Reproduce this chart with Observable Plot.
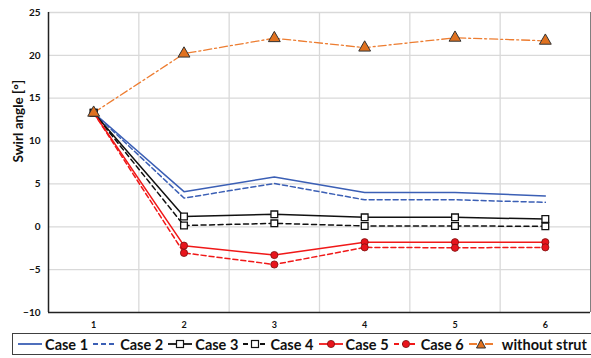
<!DOCTYPE html>
<html><head><meta charset="utf-8">
<script src="https://cdn.jsdelivr.net/npm/d3@7"></script>
<script src="https://cdn.jsdelivr.net/npm/@observablehq/plot@0.6"></script>
<style>
body{margin:0;background:#fff;font-family:Lato,"Open Sans",sans-serif;}
#legend{position:absolute;left:12px;top:333px;width:574px;height:20px;border:1px solid #404040;display:flex;align-items:center;justify-content:space-around;font-weight:bold;font-size:14.5px;color:#111;box-sizing:content-box;padding:0 2px;}
.it{display:flex;align-items:center;white-space:nowrap}
.it svg{margin-right:2px}
</style></head><body>
<div id="chart"></div>
<div id="legend"></div>
<script>
const positions = [1, 2, 3, 4, 5, 6];
const case1 = [13.3, 4.1, 5.8, 4.0, 4.0, 3.6];
const case2 = [13.3, 3.35, 5.05, 3.15, 3.15, 2.85];
const case3 = [13.3, 1.2, 1.45, 1.1, 1.1, 0.9];
const case4 = [13.3, 0.15, 0.4, 0.1, 0.1, 0.05];
const case5 = [13.3, -2.2, -3.3, -1.8, -1.8, -1.8];
const case6 = [13.3, -3.05, -4.4, -2.4, -2.45, -2.4];
const withoutStrut = [13.3, 20.2, 22.0, 20.9, 22.05, 21.7];
const seriesNames = ["Case 1", "Case 2", "Case 3", "Case 4", "Case 5", "Case 6", "without strut"];
const yTicks = [-10, -5, 0, 5, 10, 15, 20, 25];
const yLabel = "Swirl angle [°]";

const values = [case1, case2, case3, case4, case5, case6, withoutStrut];
const styles = [
  {color: "#3b5fb5", dash: null, marker: null},
  {color: "#3b5fb5", dash: "5,3", marker: null},
  {color: "#111111", dash: null, marker: "square"},
  {color: "#111111", dash: "5,3.5", marker: "square"},
  {color: "#f01818", dash: null, marker: "circle"},
  {color: "#f01818", dash: "5,3", marker: "circle"},
  {color: "#ed7d31", dash: "8,3,2,3", marker: "triangle"}
];
const rows = values.map((vals, i) => vals.map((v, j) => ({x: positions[j], y: v, s: seriesNames[i]})));
const gridX = [positions[0] - 0.5, ...positions.map(p => p + 0.5)];

const marks = [
  Plot.ruleY(yTicks.filter(t => t > yTicks[0]), {stroke: "#d9d9d9", strokeWidth: 1.3}),
  Plot.ruleX(gridX.slice(1, -1), {stroke: "#d9d9d9", strokeWidth: 1.3}),
  Plot.ruleX(gridX.slice(-1), {stroke: "#808080", strokeWidth: 1}),
  Plot.ruleY([yTicks[0]], {stroke: "#222", strokeWidth: 1.5}),
  Plot.ruleX(gridX.slice(0, 1), {stroke: "#222", strokeWidth: 1.5})
];
rows.forEach((r, i) => {
  const st = styles[i];
  marks.push(Plot.line(r, {x: "x", y: "y", stroke: st.color, strokeWidth: i === 6 ? 1.3 : 1.5, strokeDasharray: st.dash}));
});
[4, 5, 2, 3, 6].forEach(i => {
  const st = styles[i];
  if (st.marker === "circle") marks.push(Plot.dot(rows[i], {x: "x", y: "y", r: 3.6, fill: "#e8141c", stroke: "#7a1010", strokeWidth: 0.8}));
  if (st.marker === "square") marks.push(Plot.dot(rows[i], {x: "x", y: "y", symbol: "square", r: 3.8, fill: "white", stroke: "#111", strokeWidth: 1.3}));
  if (st.marker === "triangle") marks.push(Plot.dot(rows[i], {x: "x", y: "y", symbol: "triangle", r: 4.4, fill: "#e0711f", stroke: "#333", strokeWidth: 1}));
});
marks.push(Plot.axisY(yTicks, {tickSize: 0, tickPadding: 8, fontWeight: "bold", fontSize: 10, fill: "#111", label: null}));
marks.push(Plot.axisX(positions, {tickSize: 0, tickPadding: 9, fontWeight: "bold", fontSize: 9, fill: "#111", label: null}));
marks.push(Plot.text([yLabel], {frameAnchor: "left", rotate: -90, dx: -30, text: d => d, fontWeight: "bold", fontSize: 13.5, fill: "#111"}));

const chart = Plot.plot({
  width: 591, height: 333,
  marginLeft: 48, marginTop: 12, marginRight: 1, marginBottom: 21,
  style: {fontFamily: "Lato, 'Open Sans', sans-serif", background: "white", overflow: "visible"},
  x: {type: "linear", domain: [gridX[0], gridX[gridX.length - 1]]},
  y: {domain: [yTicks[0], yTicks[yTicks.length - 1]]},
  marks
});
document.getElementById("chart").append(chart);

const leg = d3.select("#legend");
seriesNames.forEach((name, i) => {
  const st = styles[i];
  const it = leg.append("div").attr("class", "it");
  const sw = it.append("svg").attr("width", 26).attr("height", 12);
  sw.append("line").attr("x1", 1).attr("x2", 25).attr("y1", 6).attr("y2", 6)
    .attr("stroke", st.color).attr("stroke-width", 1.8).attr("stroke-dasharray", st.dash);
  if (st.marker === "square") sw.append("rect").attr("x", 9.5).attr("y", 2.5).attr("width", 7).attr("height", 7).attr("fill", "white").attr("stroke", "#111").attr("stroke-width", 1.2);
  if (st.marker === "circle") sw.append("circle").attr("cx", 13).attr("cy", 6).attr("r", 3.6).attr("fill", "#e8141c").attr("stroke", "#7a1010").attr("stroke-width", 0.8);
  if (st.marker === "triangle") sw.append("path").attr("d", "M13,1.5L17.5,10H8.5Z").attr("fill", "#e0711f").attr("stroke", "#333").attr("stroke-width", 1);
  it.append("span").text(name).style("margin-left", i === 6 ? "6px" : "0");
});
</script>
</body></html>
